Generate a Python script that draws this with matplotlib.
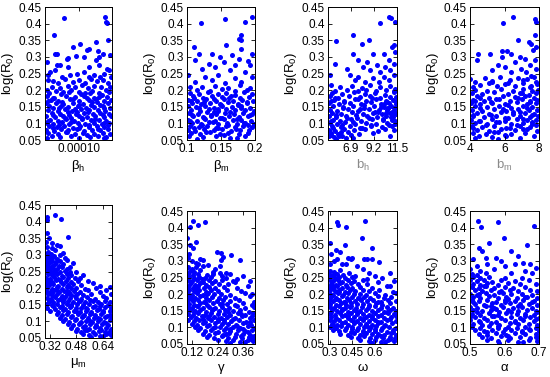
import numpy as np
import matplotlib
matplotlib.use("Agg")
import matplotlib.pyplot as plt
from matplotlib.ticker import FuncFormatter

plt.rcParams['font.family'] = ['Liberation Sans', 'DejaVu Sans']
plt.rcParams['mathtext.fontset'] = 'custom'
plt.rcParams['mathtext.rm'] = 'Liberation Sans'
plt.rcParams['mathtext.it'] = 'Liberation Sans'

# beta_h values are in units of 1e-5
beta_h_pts = [
    (8.3,.417),(13.2,.42),(13.3,.405),(13.4,.403),(7.1,.367),(13.5,.352),(12.1,.346),(10.2,.339),(9.4,.33),(7.2,.31),(7.4,.31),
    (11.3,.325),(11.0,.32),(12.3,.317),(12.9,.31),(13.8,.307),(8.6,.293),(8.8,.296),(9.7,.302),(10.6,.3),(12.1,.29),(6.2,.286),
    (12.5,.3),(7.8,.277),(7.4,.275),(8.8,.27),(11.3,.27),(12.4,.275),(13.4,.265),(6.6,.255),(7.2,.26),(9.8,.25),(10.6,.255),
    (11.8,.245),(13.0,.25),(13.6,.26),(6.3,.245),(8.0,.24),(9.0,.245),(11.2,.24),(12.6,.238),(13.9,.24),
    (6.4,.23),(7.0,.228),(7.6,.222),(8.4,.232),(9.3,.225),(10.1,.23),(10.8,.222),(11.5,.232),(12.2,.226),(12.9,.23),(13.5,.222),
    (6.8,.21),(7.8,.205),(8.7,.212),(9.6,.208),(10.4,.215),(11.1,.205),(11.9,.212),(12.7,.208),(13.3,.2),(13.8,.21),
    (6.2,.2),(7.3,.198),(8.2,.195),(9.1,.2),(10.0,.195),(10.8,.19),(11.6,.197),(12.4,.19),
    (6.5,.192),(7.9,.188),(8.9,.194),(10.3,.187),(11.4,.191),(12.8,.186),(13.7,.193),
    (6.2,.181),(7.1,.177),(8.5,.183),(9.6,.178),(10.7,.182),(11.8,.176),(12.5,.18),(13.4,.178),
    (6.7,.171),(7.6,.168),(9.0,.172),(10.1,.166),(11.2,.17),(12.1,.173),(13.1,.167),(13.9,.171),
    (6.1,.16),(7.3,.162),(8.2,.157),(9.4,.161),(10.5,.158),(11.6,.163),(12.6,.156),(13.5,.16),
    (6.5,.151),(7.0,.147),(7.9,.152),(8.8,.148),(9.9,.153),(10.9,.146),(11.9,.15),(12.9,.152),(13.8,.147),
    (6.3,.141),(7.5,.138),(8.4,.143),(9.2,.137),(10.3,.142),(11.3,.139),(12.3,.141),(13.2,.136),
    (6.8,.131),(7.8,.128),(8.7,.133),(9.7,.127),(10.6,.132),(11.7,.129),(12.6,.131),(13.6,.128),
    (6.1,.121),(7.2,.118),(8.1,.123),(9.1,.117),(10.1,.122),(11.0,.119),(12.0,.121),(13.0,.118),(13.9,.123),
    (6.6,.111),(7.6,.108),(8.5,.113),(9.5,.107),(10.4,.112),(11.5,.109),(12.4,.111),(13.3,.108),
    (6.2,.101),(7.0,.098),(8.0,.103),(8.9,.097),(9.9,.102),(10.8,.099),(11.8,.101),(12.8,.098),(13.7,.102),
    (6.5,.091),(7.4,.088),(8.3,.093),(9.3,.087),(10.2,.092),(11.2,.089),(12.2,.091),(13.1,.088),
    (6.1,.081),(7.1,.078),(7.9,.083),(8.8,.079),(9.8,.082),(10.7,.077),(11.6,.081),(12.6,.079),(13.5,.083),
    (6.4,.071),(7.5,.068),(8.5,.073),(9.6,.069),(10.5,.072),(11.9,.067),(12.9,.071),(13.8,.069),
    (6.8,.061),(7.8,.058),(9.1,.062),(10.1,.057),(11.4,.06),(12.3,.063),(13.3,.058),(6.2,.056),(13.0,.055),
    (6.9,.175),(9.3,.174),(11.0,.176),(12.2,.165),(8.0,.164),(10.0,.155),(6.4,.166),(13.0,.146),(7.7,.145),(9.6,.144),
    (11.1,.134),(12.9,.125),(8.9,.126),(7.0,.124),(10.4,.115),(12.0,.114),(6.3,.106),(9.1,.105),(11.2,.096),(13.5,.094),
    (7.7,.095),(10.0,.086),(12.3,.084),(8.6,.075),(11.0,.066),(6.9,.085),(13.1,.1),(9.8,.135),(11.5,.155),(8.4,.115),
]

beta_m_pts = [
    (.156,.415),(.195,.42),(.12,.402),(.185,.405),(.18,.367),(.11,.33),(.177,.355),(.18,.35),(.158,.335),(.18,.325),
    (.117,.31),(.137,.31),(.166,.305),(.195,.31),(.112,.29),(.149,.30),(.176,.295),(.19,.288),(.132,.28),(.154,.285),
    (.171,.275),(.193,.275),(.122,.265),(.141,.27),(.163,.26),(.185,.255),(.102,.245),(.127,.24),(.146,.245),(.171,.235),
    (.195,.24),(.112,.225),(.137,.23),(.156,.22),(.18,.225),
    (.105,.21),(.122,.208),(.141,.212),(.161,.205),(.178,.215),(.193,.205),(.115,.2),(.134,.198),(.151,.202),(.171,.197),(.188,.2),
    (.104,.192),(.118,.187),(.131,.194),(.146,.188),(.158,.191),(.171,.186),(.184,.193),(.196,.189),
    (.109,.181),(.124,.177),(.137,.183),(.151,.178),(.165,.182),(.178,.176),(.191,.18),
    (.102,.171),(.115,.167),(.128,.172),(.142,.168),(.155,.173),(.168,.166),(.181,.171),(.197,.168),
    (.107,.161),(.121,.158),(.134,.162),(.148,.157),(.161,.163),(.175,.159),(.188,.161),
    (.101,.151),(.113,.148),(.127,.153),(.139,.147),(.152,.152),(.166,.149),(.179,.153),(.193,.147),
    (.106,.141),(.119,.138),(.132,.143),(.145,.137),(.158,.142),(.171,.139),(.185,.141),(.198,.137),
    (.103,.131),(.116,.128),(.129,.133),(.142,.127),(.156,.132),(.169,.129),(.182,.131),(.195,.128),
    (.109,.121),(.123,.118),(.136,.123),(.149,.117),(.162,.122),(.176,.119),(.189,.121),
    (.102,.111),(.114,.108),(.127,.113),(.141,.107),(.154,.112),(.167,.109),(.18,.111),(.194,.108),
    (.107,.101),(.12,.098),(.133,.103),(.146,.097),(.159,.102),(.173,.099),(.186,.101),(.199,.098),
    (.104,.091),(.117,.088),(.13,.093),(.143,.087),(.157,.092),(.17,.089),(.183,.091),(.196,.088),
    (.101,.081),(.112,.078),(.125,.083),(.139,.079),(.152,.082),(.165,.077),(.178,.081),(.191,.079),
    (.106,.071),(.119,.068),(.134,.073),(.148,.069),(.161,.072),(.177,.067),(.19,.071),
    (.103,.062),(.124,.058),(.142,.061),(.163,.057),(.186,.062),(.115,.054),(.174,.055),
    (.111,.175),(.14,.174),(.162,.176),(.188,.165),(.125,.164),(.15,.155),(.106,.166),(.18,.146),(.117,.145),(.146,.144),
    (.163,.134),(.192,.125),(.135,.126),(.108,.124),(.152,.115),(.174,.114),(.104,.106),(.138,.105),(.16,.096),(.19,.094),
    (.122,.095),(.145,.086),(.172,.084),(.128,.075),(.155,.066),(.11,.085),(.184,.1),(.14,.135),(.175,.155),(.125,.115),
]

b_h_pts = [
    (10.66,.42),(10.9,.417),(11.33,.405),(9.8,.402),(7.12,.367),(5.44,.348),(8.74,.352),(7.97,.34),(11.0,.33),(11.16,.335),
    (9.14,.31),(7.12,.308),(10.15,.31),(11.33,.315),(5.27,.28),(7.63,.29),(8.47,.285),(10.66,.29),(9.48,.275),(10.32,.27),
    (11.16,.28),(6.45,.265),(8.13,.27),(8.8,.26),(9.81,.255),(10.83,.26),(4.77,.245),(6.79,.245),(7.63,.24),(9.14,.235),
    (10.15,.24),(11.23,.245),(7.29,.23),(8.3,.225),(9.65,.225),(10.66,.23),
    (4.94,.215),(5.78,.208),(6.96,.212),(7.97,.205),(8.8,.215),(9.81,.208),(10.83,.212),(11.33,.202),
    (5.27,.198),(6.45,.2),(7.6,.198),(8.4,.2),(9.4,.198),(10.4,.2),(11.2,.197),
    (5.0,.192),(6.0,.187),(7.2,.193),(8.3,.188),(9.3,.191),(10.3,.186),(11.2,.194),
    (4.8,.181),(5.6,.177),(6.7,.183),(7.8,.178),(8.8,.182),(9.8,.176),(10.8,.18),(11.4,.178),
    (5.2,.171),(6.2,.167),(7.3,.173),(8.4,.168),(9.4,.172),(10.4,.166),(11.1,.171),
    (4.7,.161),(5.7,.158),(6.8,.162),(7.9,.157),(8.9,.163),(9.9,.159),(10.7,.161),(11.4,.158),
    (5.1,.151),(6.1,.148),(7.1,.153),(8.2,.147),(9.2,.152),(10.2,.149),(10.9,.153),(11.3,.147),
    (4.8,.141),(5.5,.138),(6.6,.143),(7.6,.137),(8.7,.142),(9.7,.139),(10.5,.141),(11.2,.137),
    (5.0,.131),(5.9,.128),(7.0,.133),(8.1,.127),(9.1,.132),(10.0,.129),(10.8,.131),(11.4,.128),
    (4.7,.121),(5.4,.118),(6.4,.123),(7.5,.117),(8.5,.122),(9.5,.119),(10.4,.121),(11.1,.118),
    (5.1,.111),(5.8,.108),(6.9,.113),(7.9,.107),(9.0,.112),(10.1,.109),(11.0,.111),
    (4.8,.101),(5.5,.098),(6.3,.103),(7.3,.097),(8.4,.102),(9.4,.099),(10.5,.101),(11.3,.098),
    (5.0,.091),(5.9,.088),(6.8,.093),(7.8,.087),(8.9,.092),(10.0,.089),(11.0,.091),
    (4.7,.081),(5.3,.078),(6.2,.083),(7.2,.079),(8.3,.082),(9.6,.077),(11.2,.081),
    (4.9,.071),(5.6,.068),(6.6,.073),(7.7,.069),(9.1,.072),
    (4.7,.061),(5.2,.058),(6.0,.062),(7.1,.057),(10.8,.063),(5.4,.054),(6.4,.055),
    (10.2,.158),(10.6,.145),(11.0,.135),(11.35,.165),(10.9,.12),(11.3,.108),(10.4,.13),(9.9,.15),
    (5.3,.175),(7.6,.174),(9.0,.176),(10.5,.165),(6.2,.164),(8.2,.155),(4.9,.166),(10.6,.146),(6.1,.145),(7.8,.144),
    (9.3,.134),(11.0,.125),(7.4,.126),(5.4,.124),(8.7,.115),(10.1,.114),(4.9,.106),(7.1,.105),(8.9,.096),(10.7,.094),
    (6.0,.095),(8.0,.086),(10.3,.084),(5.9,.075),(6.9,.066),(5.1,.085),(11.2,.145),(9.6,.135),(10.0,.155),(6.5,.115),
    (4.9,.065),(5.7,.062),
]

b_m_pts = [
    (5.92,.402),(6.5,.42),(7.75,.415),(7.85,.405),(7.75,.367),(6.8,.352),(7.4,.345),(7.56,.34),(7.85,.33),(4.48,.31),
    (5.15,.31),(5.83,.318),(6.12,.318),(6.4,.31),(7.65,.32),(4.38,.29),(5.83,.3),(6.88,.3),(7.17,.295),(7.79,.29),
    (5.63,.275),(6.6,.285),(6.0,.27),(6.98,.265),(7.46,.275),(5.25,.26),(6.4,.255),(7.27,.255),(7.85,.265),(4.0,.232),
    (4.87,.235),(5.73,.24),(6.79,.235),(7.56,.242),(5.25,.225),(6.21,.222),(7.08,.23),(7.85,.225),
    (4.19,.21),(4.6,.215),(5.1,.22),(5.55,.212),(6.0,.218),(6.6,.212),(7.1,.22),(7.55,.212),(7.9,.218),
    (4.3,.225),(5.3,.228),(6.3,.23),(7.3,.232),(7.7,.24),
    (4.3,.201),(5.0,.197),(5.8,.203),(6.5,.198),(7.1,.202),(7.6,.196),(7.95,.2),
    (4.1,.191),(4.7,.187),(5.4,.193),(6.2,.188),(6.9,.192),(7.4,.186),(7.8,.19),
    (4.4,.181),(5.1,.177),(5.9,.183),(6.6,.178),(7.2,.182),(7.7,.176),
    (4.2,.171),(4.8,.167),(5.5,.173),(6.3,.168),(7.0,.172),(7.5,.166),(7.9,.171),
    (4.05,.161),(4.6,.158),(5.3,.162),(6.0,.157),(6.7,.163),(7.3,.159),(7.8,.161),
    (4.3,.151),(5.0,.148),(5.7,.153),(6.4,.147),(7.1,.152),(7.6,.149),
    (4.1,.141),(4.7,.138),(5.4,.143),(6.1,.137),(6.8,.142),(7.4,.139),(7.9,.141),
    (4.4,.131),(5.1,.128),(5.8,.133),(6.5,.127),(7.2,.132),(7.7,.129),
    (4.2,.121),(4.8,.118),(5.5,.123),(6.2,.117),(6.9,.122),(7.5,.119),(7.95,.121),
    (4.05,.111),(4.6,.108),(5.3,.113),(6.0,.107),(6.7,.112),(7.3,.109),(7.8,.111),
    (4.3,.101),(5.0,.098),(5.7,.103),(6.4,.097),(7.1,.102),(7.6,.099),
    (4.1,.091),(4.7,.088),(5.4,.093),(6.1,.087),(6.9,.092),(7.5,.089),
    (4.4,.081),(5.1,.078),(5.8,.083),(6.6,.079),(7.3,.082),(7.9,.077),
    (4.2,.071),(4.9,.068),(5.6,.073),(6.4,.069),(7.2,.072),
    (4.5,.061),(5.3,.058),(6.1,.062),(6.9,.057),(7.7,.063),(4.3,.055),(5.6,.054),
    (4.6,.175),(5.7,.174),(6.8,.176),(7.5,.165),(5.2,.164),(6.2,.155),(4.3,.166),(7.3,.146),(4.6,.145),(5.9,.144),
    (6.5,.134),(7.6,.125),(5.2,.126),(4.2,.124),(6.0,.115),(7.1,.114),(4.5,.106),(5.5,.105),(6.7,.096),(7.8,.094),
    (4.9,.095),(6.3,.086),(7.1,.084),(5.4,.075),(6.0,.066),(4.2,.085),(7.6,.105),(6.9,.135),(7.0,.19),(7.5,.21),
]

mu_m_pts = [
    (.30,.415),(.35,.42),(.386,.407),(.30,.405),(.30,.365),(.316,.35),(.43,.353),(.36,.33),(.38,.327),(.30,.325),
    (.33,.32),(.31,.31),(.35,.315),(.40,.305),(.38,.30),(.42,.285),(.46,.275),(.44,.265),(.48,.25),(.52,.24),
    (.50,.23),(.55,.22),(.58,.215),(.62,.205),(.66,.195),(.60,.2),(.295,.34),(.33,.335),(.41,.29),
    (.295,.302),(.31,.297),(.325,.303),(.345,.298),
    (.30,.291),(.32,.287),(.34,.293),(.36,.288),
    (.295,.281),(.315,.277),(.335,.283),(.355,.278),(.38,.282),
    (.305,.271),(.33,.267),(.35,.273),(.375,.268),(.40,.272),
    (.295,.261),(.32,.258),(.34,.262),(.365,.257),(.39,.263),(.42,.259),
    (.30,.251),(.325,.248),(.35,.253),(.38,.247),(.41,.252),(.44,.249),
    (.31,.241),(.335,.238),(.36,.243),(.39,.237),(.42,.242),(.45,.239),
    (.295,.231),(.32,.228),(.345,.233),(.37,.227),(.40,.232),(.43,.229),(.47,.231),
    (.305,.221),(.33,.218),(.355,.223),(.385,.217),(.415,.222),(.445,.219),(.49,.221),
    (.295,.211),(.315,.208),(.34,.213),(.37,.207),(.40,.212),(.43,.209),(.46,.211),(.51,.208),
    (.305,.201),(.33,.198),(.36,.203),(.39,.197),(.42,.202),(.45,.199),(.48,.201),(.53,.198),(.68,.203),
    (.295,.191),(.32,.188),(.345,.193),(.375,.187),(.405,.192),(.435,.189),(.465,.191),(.50,.188),(.55,.193),(.62,.187),
    (.31,.181),(.335,.178),(.36,.183),(.39,.177),(.42,.182),(.45,.179),(.485,.181),(.52,.178),(.57,.183),(.64,.177),(.69,.181),
    (.30,.171),(.325,.168),(.35,.173),(.38,.167),(.41,.172),(.44,.169),(.475,.171),(.51,.168),(.545,.173),(.59,.167),(.66,.171),
    (.315,.161),(.34,.158),(.37,.163),(.40,.157),(.43,.162),(.46,.159),(.495,.161),(.53,.158),(.565,.163),(.61,.157),(.65,.162),(.685,.159),
    (.305,.151),(.33,.148),(.36,.153),(.39,.147),(.42,.152),(.45,.149),(.485,.151),(.52,.148),(.555,.153),(.59,.147),(.63,.152),(.67,.149),
    (.30,.141),(.35,.138),(.38,.143),(.41,.137),(.44,.142),(.475,.139),(.51,.141),(.545,.138),(.58,.143),(.615,.137),(.655,.142),(.69,.139),
    (.32,.131),(.37,.128),(.40,.133),(.43,.127),(.465,.132),(.50,.129),(.535,.131),(.57,.128),(.605,.133),(.64,.127),(.68,.132),
    (.36,.121),(.39,.118),(.42,.123),(.455,.117),(.49,.122),(.525,.119),(.56,.121),(.595,.118),(.63,.123),(.665,.117),
    (.38,.111),(.41,.108),(.445,.113),(.48,.107),(.515,.112),(.55,.109),(.585,.111),(.62,.108),(.655,.113),(.69,.107),
    (.40,.101),(.435,.098),(.47,.103),(.505,.097),(.54,.102),(.575,.099),(.61,.101),(.645,.098),(.68,.103),
    (.43,.091),(.46,.088),(.495,.093),(.53,.087),(.565,.092),(.60,.089),(.635,.091),(.67,.088),
    (.45,.081),(.485,.078),(.52,.083),(.555,.077),(.59,.082),(.625,.079),(.66,.081),(.69,.078),
    (.48,.071),(.51,.068),(.545,.073),(.58,.067),(.615,.072),(.65,.069),(.68,.071),
    (.52,.061),(.555,.058),(.59,.062),(.625,.057),(.66,.063),(.69,.059),(.57,.054),(.64,.055),
    (.31,.265),(.345,.245),(.32,.215),(.38,.225),(.36,.195),(.42,.19),(.40,.165),(.47,.175),(.445,.145),(.50,.16),
    (.48,.13),(.54,.14),(.52,.115),(.57,.125),(.56,.1),(.61,.11),(.60,.085),(.64,.13),(.66,.095),(.68,.12),
    (.63,.075),(.67,.065),(.335,.185),(.31,.155),(.34,.145),(.43,.205),(.58,.16),(.62,.145),(.50,.095),(.53,.075),
]

gamma_pts = [
    (.125,.421),(.11,.403),(.149,.408),(.18,.418),(.097,.368),(.11,.348),(.14,.358),(.125,.338),(.10,.308),(.157,.306),
    (.172,.303),(.235,.328),(.258,.323),(.266,.313),(.305,.318),(.344,.303),(.258,.303),(.149,.29),(.196,.288),(.23,.275),
    (.28,.265),(.30,.262),(.36,.255),(.33,.245),(.22,.26),(.12,.3),(.14,.295),(.105,.32),(.17,.285),(.25,.285),
    (.32,.235),(.38,.225),(.40,.2),(.39,.24),(.26,.255),
    (.10,.281),(.12,.277),(.14,.283),
    (.11,.271),(.13,.267),(.16,.273),(.22,.268),
    (.10,.261),(.125,.258),(.15,.262),(.19,.257),(.25,.263),
    (.105,.251),(.13,.248),(.155,.253),(.18,.247),(.21,.252),(.28,.249),
    (.10,.241),(.12,.238),(.145,.243),(.17,.237),(.20,.242),(.23,.239),(.26,.241),(.31,.238),
    (.11,.231),(.135,.228),(.16,.233),(.185,.227),(.215,.232),(.245,.229),(.29,.231),
    (.10,.221),(.125,.218),(.15,.223),(.175,.217),(.20,.222),(.23,.219),(.27,.221),(.33,.218),
    (.105,.211),(.13,.208),(.155,.213),(.185,.207),(.21,.212),(.24,.209),(.285,.211),(.35,.208),
    (.10,.201),(.12,.198),(.145,.203),(.17,.197),(.195,.202),(.225,.199),(.255,.201),(.30,.198),(.37,.203),
    (.11,.191),(.135,.188),(.16,.193),(.185,.187),(.215,.192),(.245,.189),(.275,.191),(.32,.188),(.39,.193),
    (.10,.181),(.125,.178),(.15,.183),(.175,.177),(.20,.182),(.235,.179),(.265,.181),(.30,.178),(.34,.183),(.41,.177),
    (.105,.171),(.13,.168),(.16,.173),(.19,.167),(.22,.172),(.25,.169),(.285,.171),(.32,.168),(.36,.173),(.40,.167),
    (.10,.161),(.12,.158),(.145,.163),(.17,.157),(.20,.162),(.23,.159),(.26,.161),(.295,.158),(.33,.163),(.37,.157),(.41,.162),
    (.11,.151),(.135,.148),(.16,.153),(.185,.147),(.215,.152),(.245,.149),(.275,.151),(.31,.148),(.345,.153),(.385,.147),
    (.10,.141),(.125,.138),(.15,.143),(.18,.137),(.21,.142),(.24,.139),(.27,.141),(.30,.138),(.335,.143),(.37,.137),(.405,.142),
    (.115,.131),(.14,.128),(.165,.133),(.195,.127),(.225,.132),(.255,.129),(.285,.131),(.32,.128),(.355,.133),(.39,.127),
    (.10,.121),(.13,.118),(.155,.123),(.18,.117),(.21,.122),(.24,.119),(.27,.121),(.305,.118),(.34,.123),(.375,.117),(.41,.122),
    (.12,.111),(.145,.108),(.17,.113),(.20,.107),(.23,.112),(.26,.109),(.29,.111),(.325,.108),(.36,.113),(.395,.107),
    (.135,.101),(.16,.098),(.19,.103),(.22,.097),(.25,.102),(.28,.099),(.31,.101),(.345,.098),(.38,.103),(.41,.097),
    (.15,.091),(.18,.088),(.21,.093),(.24,.087),(.27,.092),(.30,.089),(.335,.091),(.37,.088),(.40,.093),
    (.17,.081),(.20,.078),(.23,.083),(.265,.077),(.295,.082),(.325,.079),(.36,.081),(.39,.078),
    (.19,.071),(.225,.068),(.26,.073),(.29,.067),(.32,.072),(.355,.069),(.385,.071),(.41,.068),
    (.24,.061),(.28,.058),(.31,.062),(.345,.057),(.38,.063),(.405,.059),(.30,.054),(.37,.055),
    (.115,.235),(.14,.215),(.165,.245),(.19,.2),(.12,.185),(.15,.165),(.18,.175),(.22,.155),(.26,.17),(.2,.135),
    (.24,.125),(.29,.145),(.27,.115),(.31,.125),(.33,.105),(.35,.14),(.36,.095),(.39,.115),(.38,.085),(.40,.135),
    (.41,.075),(.30,.095),(.23,.1),(.13,.145),(.17,.125),(.35,.075),(.395,.065),(.28,.08),
]

omega_pts = [
    (.353,.418),(.357,.408),(.409,.403),(.537,.421),(.514,.368),(.301,.353),(.402,.348),(.586,.34),(.346,.333),(.369,.328),
    (.31,.32),(.42,.31),(.44,.305),(.45,.308),(.53,.305),(.55,.305),(.58,.305),(.63,.298),(.35,.305),(.38,.29),
    (.41,.29),(.33,.3),(.48,.285),(.52,.275),(.56,.265),(.60,.255),(.65,.25),(.70,.265),(.73,.24),(.62,.235),
    (.68,.225),(.30,.29),(.47,.255),(.55,.245),
    (.30,.271),(.33,.267),(.37,.273),
    (.295,.261),(.32,.258),(.35,.262),(.39,.257),(.43,.263),
    (.305,.251),(.335,.248),(.365,.253),(.40,.247),(.45,.252),
    (.30,.241),(.325,.238),(.355,.243),(.385,.237),(.42,.242),(.46,.239),(.52,.241),
    (.31,.231),(.34,.228),(.37,.233),(.41,.227),(.44,.232),(.49,.229),(.55,.231),
    (.295,.221),(.32,.218),(.35,.223),(.38,.217),(.415,.222),(.45,.219),(.50,.221),(.58,.218),(.70,.223),
    (.305,.211),(.335,.208),(.365,.213),(.40,.207),(.435,.212),(.47,.209),(.52,.211),(.56,.208),(.63,.213),(.72,.207),
    (.30,.201),(.325,.198),(.355,.203),(.39,.197),(.425,.202),(.46,.199),(.50,.201),(.54,.198),(.60,.203),(.67,.197),(.74,.202),
    (.31,.191),(.345,.188),(.38,.193),(.415,.187),(.45,.192),(.49,.189),(.53,.191),(.57,.188),(.62,.193),(.66,.187),(.71,.192),
    (.295,.181),(.325,.178),(.36,.183),(.395,.177),(.43,.182),(.47,.179),(.51,.181),(.55,.178),(.59,.183),(.64,.177),(.69,.182),(.74,.179),
    (.305,.171),(.34,.168),(.375,.173),(.41,.167),(.445,.172),(.485,.169),(.525,.171),(.565,.168),(.61,.173),(.65,.167),(.70,.172),
    (.30,.161),(.33,.158),(.365,.163),(.40,.157),(.435,.162),(.475,.159),(.515,.161),(.555,.158),(.60,.163),(.64,.157),(.68,.162),(.725,.159),
    (.315,.151),(.35,.148),(.385,.153),(.42,.147),(.46,.152),(.50,.149),(.54,.151),(.58,.148),(.62,.153),(.66,.147),(.705,.152),(.745,.149),
    (.30,.141),(.335,.138),(.37,.143),(.405,.137),(.445,.142),(.485,.139),(.525,.141),(.565,.138),(.605,.143),(.645,.137),(.69,.142),(.73,.139),
    (.31,.131),(.345,.128),(.38,.133),(.42,.127),(.46,.132),(.50,.129),(.54,.131),(.58,.128),(.625,.133),(.665,.127),(.71,.132),
    (.30,.121),(.33,.118),(.365,.123),(.40,.117),(.44,.122),(.48,.119),(.52,.121),(.56,.118),(.60,.123),(.64,.117),(.685,.122),(.74,.119),
    (.315,.111),(.35,.108),(.385,.113),(.425,.107),(.465,.112),(.505,.109),(.545,.111),(.585,.108),(.625,.113),(.67,.107),(.715,.112),
    (.305,.101),(.34,.098),(.375,.103),(.41,.097),(.45,.102),(.49,.099),(.53,.101),(.57,.098),(.61,.103),(.65,.097),(.695,.102),(.74,.099),
    (.325,.091),(.36,.088),(.40,.093),(.44,.087),(.48,.092),(.52,.089),(.56,.091),(.60,.088),(.64,.093),(.68,.087),(.72,.092),
    (.37,.081),(.42,.078),(.46,.083),(.50,.077),(.545,.082),(.585,.079),(.625,.081),(.665,.078),(.71,.083),(.745,.077),
    (.44,.071),(.49,.068),(.53,.073),(.57,.067),(.61,.072),(.655,.069),(.70,.071),(.735,.068),
    (.50,.061),(.56,.058),(.60,.062),(.64,.057),(.69,.063),(.73,.059),(.58,.054),(.67,.055),
    (.32,.225),(.36,.205),(.34,.185),(.40,.175),(.38,.155),(.44,.165),(.42,.135),(.48,.145),(.46,.115),(.52,.125),
    (.55,.105),(.58,.135),(.62,.115),(.60,.095),(.66,.105),(.64,.075),(.70,.125),(.72,.085),(.68,.145),(.74,.135),
    (.31,.145),(.33,.105),(.50,.185),(.56,.165),(.62,.175),(.45,.095),(.52,.085),(.70,.065),
]

alpha_pts = [
    (.524,.421),(.531,.403),(.58,.417),(.598,.368),(.685,.406),(.666,.348),(.526,.34),(.554,.353),(.536,.33),(.51,.305),
    (.545,.31),(.575,.31),(.59,.3),(.62,.33),(.64,.315),(.63,.29),(.655,.295),(.675,.29),(.69,.28),(.55,.29),
    (.52,.285),(.60,.285),(.66,.27),(.68,.265),(.57,.275),(.62,.265),(.50,.275),(.53,.27),(.65,.25),
    (.505,.261),(.52,.257),(.545,.263),
    (.51,.251),(.53,.247),(.555,.253),(.60,.248),
    (.50,.241),(.52,.238),(.54,.243),(.565,.237),(.59,.242),(.63,.239),(.67,.241),
    (.51,.231),(.53,.228),(.55,.233),(.58,.227),(.61,.232),(.645,.229),(.69,.231),
    (.505,.221),(.525,.218),(.545,.223),(.57,.217),(.60,.222),(.625,.219),(.66,.221),
    (.515,.211),(.535,.208),(.56,.213),(.585,.207),(.615,.212),(.64,.209),(.675,.211),(.695,.208),
    (.50,.201),(.52,.198),(.545,.203),(.57,.197),(.595,.202),(.62,.199),(.65,.201),(.68,.198),
    (.51,.191),(.53,.188),(.555,.193),(.58,.187),(.605,.192),(.635,.189),(.665,.191),(.695,.188),
    (.505,.181),(.525,.178),(.55,.183),(.575,.177),(.60,.182),(.63,.179),(.655,.181),(.685,.178),
    (.515,.171),(.54,.168),(.565,.173),(.59,.167),(.615,.172),(.645,.169),(.67,.171),(.695,.168),
    (.50,.161),(.52,.158),(.545,.163),(.57,.157),(.595,.162),(.625,.159),(.65,.161),(.68,.158),
    (.51,.151),(.535,.148),(.56,.153),(.585,.147),(.61,.152),(.64,.149),(.665,.151),(.69,.148),
    (.505,.141),(.53,.138),(.555,.143),(.58,.137),(.605,.142),(.635,.139),(.66,.141),(.685,.138),
    (.515,.131),(.54,.128),(.565,.133),(.59,.127),(.62,.132),(.645,.129),(.675,.131),(.70,.128),
    (.50,.121),(.525,.118),(.55,.123),(.575,.117),(.60,.122),(.63,.119),(.655,.121),(.685,.118),
    (.51,.111),(.535,.108),(.56,.113),(.585,.107),(.615,.112),(.64,.109),(.67,.111),(.695,.108),
    (.505,.101),(.53,.098),(.555,.103),(.58,.097),(.61,.102),(.635,.099),(.66,.101),(.69,.098),
    (.515,.091),(.54,.088),(.565,.093),(.595,.087),(.62,.092),(.65,.089),(.675,.091),(.70,.088),
    (.525,.081),(.55,.078),(.575,.083),(.605,.077),(.63,.082),(.66,.079),(.69,.081),
    (.535,.071),(.56,.068),(.59,.073),(.615,.067),(.645,.072),(.675,.069),(.70,.071),
    (.55,.061),(.58,.058),(.61,.062),(.64,.057),(.67,.063),(.695,.059),(.585,.054),(.655,.055),
    (.51,.175),(.56,.165),(.60,.175),(.64,.165),(.68,.175),(.52,.145),(.57,.135),(.62,.145),(.66,.135),(.69,.125),
    (.53,.115),(.58,.105),(.63,.115),(.67,.095),(.55,.085),(.61,.075),(.65,.085),(.69,.07),(.525,.2),(.59,.21),
    (.66,.19),(.54,.225),(.61,.185),(.50,.13),(.695,.145),(.60,.095),(.575,.155),
]

# x-axis limits, ticks, tick labels and axis labels for each panel
xlims = [(6e-5, 14e-5), (0.1, 0.2), (4.6, 11.5), (4, 8),
         (0.29, 0.695), (0.097, 0.415), (0.29, 0.75), (0.5, 0.7)]
xticks = [[1e-4], [0.1, 0.15, 0.2], [6.9, 9.2, 11.5], [4, 6, 8],
          [0.32, 0.48, 0.64], [0.12, 0.24, 0.36], [0.3, 0.45, 0.6], [0.5, 0.6, 0.7]]
xticklabels = [['0.00010'], ['0.1', '0.15', '0.2'], ['6.9', '9.2', '11.5'], ['4', '6', '8'],
               ['0.32', '0.48', '0.64'], ['0.12', '0.24', '0.36'], ['0.3', '0.45', '0.6'], ['0.5', '0.6', '0.7']]
xlabels = ['β$_\\mathrm{h}$', 'β$_\\mathrm{m}$', 'b$_\\mathrm{h}$', 'b$_\\mathrm{m}$',
           'μ$_\\mathrm{m}$', 'γ', 'ω', 'α']
label_colors = ['black', 'black', '#8a8a8a', '#8a8a8a', 'black', 'black', 'black', 'black']
yticks = [0.05, 0.1, 0.15, 0.2, 0.25, 0.3, 0.35, 0.4, 0.45]

panels = [beta_h_pts, beta_m_pts, b_h_pts, b_m_pts, mu_m_pts, gamma_pts, omega_pts, alpha_pts]
x_scale = [1e-5, 1, 1, 1, 1, 1, 1, 1]

W, H = 550, 377
# axes boxes in pixels: left, right, top, bottom
boxes = [(45, 112, 7, 140), (187, 255, 7, 140), (328, 397, 7, 140), (470, 539, 7, 140),
         (45, 112, 205, 338), (187, 255, 211, 344), (328, 397, 211, 344), (470, 539, 211, 344)]

fig = plt.figure(figsize=(W / 100, H / 100), dpi=100)

for i, pts in enumerate(panels):
    l, r, t, b = boxes[i]
    ax = fig.add_axes([l / W, 1 - b / H, (r - l) / W, (b - t) / H])
    arr = np.array(pts)
    ax.scatter(arr[:, 0] * x_scale[i], arr[:, 1], s=13, c='#0000ff', linewidths=0)
    ax.set_xlim(*xlims[i])
    ax.set_ylim(0.05, 0.45)
    ax.set_xticks(xticks[i])
    ax.set_xticklabels(xticklabels[i])
    ax.set_yticks(yticks)
    ax.yaxis.set_major_formatter(FuncFormatter(lambda v, p: '%g' % round(v, 2)))
    ax.tick_params(direction='in', top=True, right=True, length=3, width=0.6,
                   labelsize=8.5, pad=2.5)
    for s in ax.spines.values():
        s.set_linewidth(0.7)
    ax.set_xlabel(xlabels[i], fontsize=9.5, color=label_colors[i], labelpad=2)
    ax.set_ylabel('log(R$_0$)', fontsize=9.5, labelpad=2)

fig.savefig('out.png', dpi=100)
